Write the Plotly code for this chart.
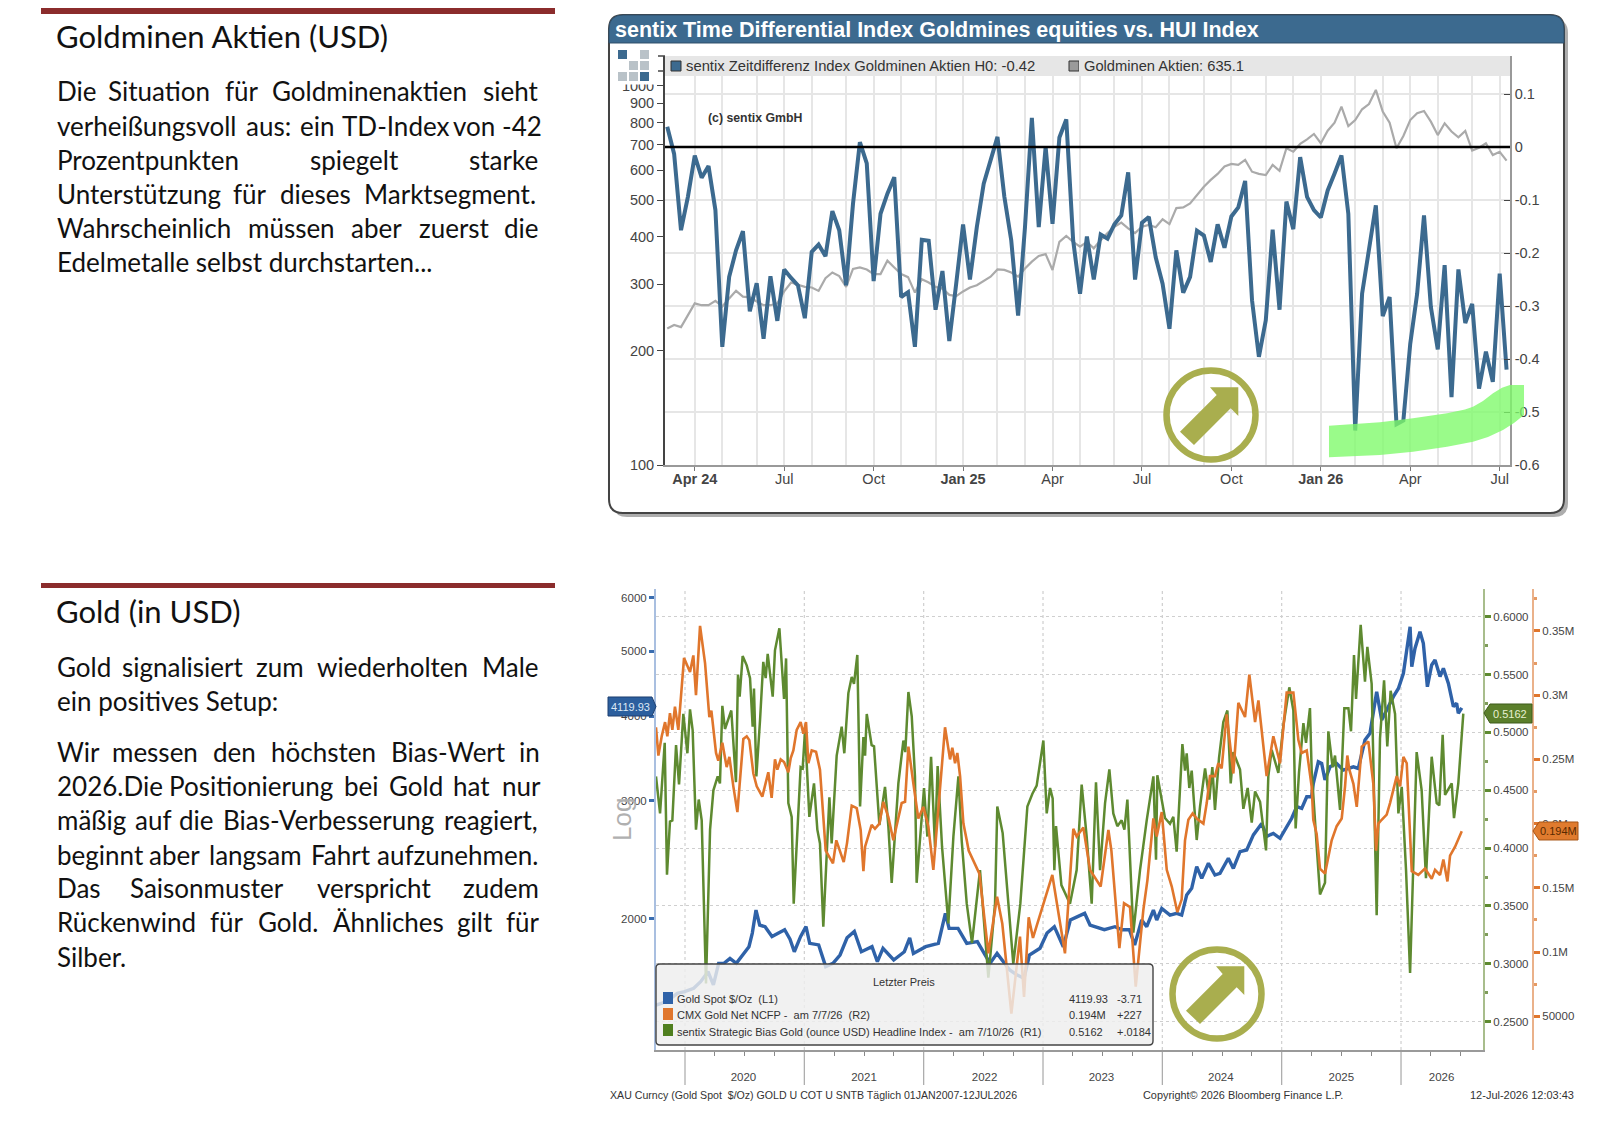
import pandas as pd
import plotly.graph_objects as go

# ---------- top chart data ----------
td_end = "2026-07-10"
td_index = [0.038,-0.013,-0.157,-0.094,-0.016,-0.058,-0.036,-0.119,-0.377,-0.245,-0.195,-0.159,
 -0.310,-0.257,-0.362,-0.244,-0.328,-0.231,-0.247,-0.261,-0.323,-0.198,-0.184,-0.206,-0.121,-0.157,
 -0.261,-0.107,0.009,-0.031,-0.253,-0.126,-0.088,-0.057,-0.283,-0.274,-0.377,-0.175,-0.177,-0.307,
 -0.234,-0.366,-0.258,-0.146,-0.250,-0.151,-0.069,-0.025,0.019,-0.094,-0.176,-0.318,-0.151,0.055,
 -0.151,0.0,-0.145,0.018,0.052,-0.176,-0.277,-0.169,
 -0.250,-0.165,-0.173,-0.146,-0.129,-0.048,-0.250,-0.143,-0.132,-0.208,-0.258,-0.343,-0.195,-0.275,
 -0.245,-0.158,-0.167,-0.217,-0.146,-0.190,-0.131,-0.114,-0.064,-0.289,-0.396,-0.327,-0.156,-0.307,
 -0.103,-0.155,-0.019,-0.094,-0.119,-0.133,-0.082,-0.050,-0.016,-0.126,-0.535,-0.277,-0.195,-0.110,
 -0.319,-0.283,-0.523,-0.516,-0.371,-0.277,-0.129,-0.302,-0.382,-0.223,-0.472,-0.231,-0.332,-0.296,
 -0.456,-0.386,-0.443,-0.239,-0.420]
hui_index = [229,234,231,249,267,264,264,271,262,275,288,278,277,270,264,264,267,287,303,299,295,294,
 288,311,322,315,295,329,332,328,319,319,346,332,319,313,285,309,303,295,292,281,279,287,294,298,306,
 314,328,327,322,314,330,344,356,360,327,388,402,388,377,388,
 373,392,409,425,436,421,409,425,430,424,445,432,476,478,490,516,542,565,586,613,623,619,638,594,586,
 582,619,597,685,671,703,723,747,706,762,800,882,784,813,868,896,976,856,800,685,738,813,847,859,805,
 742,797,758,732,761,675,687,706,657,670,635.1]
left_ticks = [100,200,300,400,500,600,700,800,900,1000]
right_ticks = [0.1,0,-0.1,-0.2,-0.3,-0.4,-0.5,-0.6]
right_labels = ["0.1","0","-0.1","-0.2","-0.3","-0.4","-0.5","-0.6"]
quarter_dates = ["2024-04-05","2024-07-05","2024-10-04","2025-01-03","2025-04-04","2025-07-04",
                 "2025-10-03","2026-01-02","2026-04-03","2026-07-03"]
quarter_labels = ["<b>Apr 24</b>","Jul","Oct","<b>Jan 25</b>","Apr","Jul","Oct","<b>Jan 26</b>","Apr","Jul"]
month_dates = ["2024-05-03","2024-06-07","2024-08-02","2024-09-06","2024-11-01","2024-12-06",
               "2025-02-07","2025-03-07","2025-05-02","2025-06-06","2025-08-01","2025-09-05",
               "2025-11-07","2025-12-05","2026-02-06","2026-03-06","2026-05-01","2026-06-05"]

# ---------- bottom chart data (year fraction, value) ----------
gold_points = [(2019.757,1490),(2019.802,1498),(2019.863,1516),(2019.936,1551),(2019.997,1560),(2020.073,1578),
 (2020.131,1614),(2020.193,1670),(2020.238,1596),(2020.282,1718),(2020.327,1718),(2020.377,1748),(2020.430,1718),
 (2020.492,1778),(2020.536,1819),(2020.564,1906),(2020.595,2062),(2020.626,1959),(2020.671,1948),(2020.729,1884),
 (2020.835,1928),(2020.880,1866),(2020.916,1788),(2020.969,1884),(2021.014,1948),(2021.045,1840),(2021.120,1830),
 (2021.179,1699),(2021.240,1718),(2021.299,1768),(2021.358,1875),(2021.419,1917),(2021.478,1788),(2021.567,1819),
 (2021.612,1728),(2021.659,1809),(2021.749,1738),(2021.838,1788),(2021.883,1875),(2021.914,1778),(2022.017,1819),
 (2022.123,1840),(2022.182,2039),(2022.213,1937),(2022.288,1937),(2022.361,1840),(2022.450,1851),(2022.556,1718),
 (2022.615,1778),(2022.721,1680),(2022.780,1652),(2022.841,1633),(2022.886,1768),(2022.975,1809),(2023.034,1906),
 (2023.095,1948),(2023.170,1819),(2023.229,1993),(2023.349,2039),(2023.394,1959),(2023.514,1928),(2023.603,1948),
 (2023.662,1928),(2023.724,1928),(2023.768,1830),(2023.827,1993),(2023.869,1948),(2023.925,2062),(2023.953,1993),
 (2023.995,2074),(2024.064,2027),(2024.120,2039),(2024.162,2027),(2024.204,2171),(2024.246,2221),(2024.288,2392),
 (2024.330,2298),(2024.386,2420),(2024.441,2325),(2024.483,2339),(2024.553,2462),(2024.595,2378),(2024.651,2518),
 (2024.707,2533),(2024.763,2667),(2024.833,2774),(2024.874,2652),(2024.930,2681),(2024.986,2636),(2025.084,2823),
 (2025.126,2937),(2025.168,2920),(2025.210,3039),(2025.251,3039),(2025.265,3179),(2025.307,3425),(2025.335,3405),
 (2025.363,3218),(2025.405,3367),(2025.461,3405),(2025.517,3329),(2025.601,3367),(2025.642,3348),(2025.698,3690),
 (2025.740,3776),(2025.796,4353),(2025.838,3952),(2025.936,4281),(2025.978,4402),(2026.020,4636),(2026.076,5438),
 (2026.090,4744),(2026.117,5049),(2026.159,5347),(2026.187,5137),(2026.221,4428),(2026.257,4770),(2026.285,4853),
 (2026.327,4585),(2026.355,4717),(2026.397,4480),(2026.439,4137),(2026.466,4185),(2026.480,4043),(2026.509,4119.93)]

ncfp_points = [(2019.757,.275),(2019.777,.253),(2019.805,.268),(2019.833,.279),(2019.852,.268),(2019.874,.286),
 (2019.894,.273),(2019.916,.291),(2019.944,.273),(2019.992,.329),(2020.042,.318),(2020.070,.331),(2020.092,.300),
 (2020.126,.354),(2020.168,.325),(2020.204,.283),(2020.221,.288),(2020.260,.255),(2020.279,.249),(2020.313,.263),
 (2020.349,.244),(2020.372,.252),(2020.405,.229),(2020.439,.209),(2020.489,.266),(2020.517,.268),(2020.539,.265),
 (2020.573,.239),(2020.601,.229),(2020.648,.221),(2020.698,.240),(2020.726,.220),(2020.754,.250),(2020.774,.242),
 (2020.802,.250),(2020.830,.248),(2020.866,.240),(2020.886,.251),(2020.908,.257),(2020.936,.273),(2020.969,.279),
 (2020.992,.270),(2021.014,.279),(2021.034,.247),(2021.062,.257),(2021.098,.256),(2021.131,.242),(2021.159,.200),
 (2021.179,.179),(2021.240,.169),(2021.268,.187),(2021.330,.170),(2021.358,.185),(2021.397,.214),(2021.439,.212),
 (2021.472,.195),(2021.495,.163),(2021.509,.182),(2021.564,.199),(2021.592,.196),(2021.629,.200),(2021.662,.217),
 (2021.704,.205),(2021.746,.187),(2021.816,.216),(2021.844,.217),(2021.872,.260),(2021.914,.231),(2021.955,.204),
 (2021.997,.213),(2022.039,.198),(2022.081,.164),(2022.151,.247),(2022.179,.275),(2022.221,.250),(2022.240,.259),
 (2022.263,.247),(2022.282,.255),(2022.305,.237),(2022.333,.200),(2022.361,.187),(2022.377,.179),(2022.467,.161),
 (2022.542,.099),(2022.615,.143),(2022.659,.122),(2022.735,.052),(2022.807,.112),(2022.841,.065),(2022.880,.127),
 (2022.916,.111),(2023.006,.138),(2023.078,.160),(2023.184,.099),(2023.254,.196),(2023.282,.190),(2023.338,.197),
 (2023.394,.164),(2023.483,.151),(2023.548,.195),(2023.573,.179),(2023.640,.103),(2023.679,.138),(2023.729,.135),
 (2023.777,.073),(2023.841,.133),(2023.875,.156),(2023.925,.204),(2023.953,.190),(2023.995,.209),(2024.037,.164),
 (2024.079,.151),(2024.126,.131),(2024.162,.141),(2024.190,.187),(2024.218,.203),(2024.254,.208),(2024.288,.204),
 (2024.344,.200),(2024.372,.216),(2024.399,.237),(2024.441,.237),(2024.469,.247),(2024.497,.243),(2024.539,.285),
 (2024.595,.239),(2024.637,.294),(2024.693,.283),(2024.729,.316),(2024.777,.279),(2024.805,.296),(2024.874,.237),
 (2024.930,.268),(2024.986,.247),(2025.042,.302),(2025.098,.302),(2025.140,.265),(2025.168,.255),(2025.210,.257),
 (2025.251,.229),(2025.265,.203),(2025.293,.192),(2025.321,.165),(2025.363,.161),(2025.419,.187),(2025.461,.198),
 (2025.503,.204),(2025.531,.229),(2025.550,.253),(2025.567,.242),(2025.601,.231),(2025.629,.213),(2025.651,.242),
 (2025.671,.260),(2025.726,.264),(2025.768,.231),(2025.791,.179),(2025.810,.200),(2025.838,.203),(2025.880,.207),
 (2025.908,.216),(2025.964,.237),(2025.992,.229),(2026.020,.252),(2026.048,.247),(2026.076,.190),(2026.090,.163),
 (2026.145,.160),(2026.201,.165),(2026.257,.157),(2026.285,.164),(2026.327,.160),(2026.355,.172),(2026.389,.155),
 (2026.411,.175),(2026.453,.182),(2026.509,.194)]

bias_points = [(2019.757,.462),(2019.791,.430),(2019.830,.491),(2019.849,.377),(2019.874,.423),(2019.894,.424),
 (2019.925,.489),(2019.950,.455),(2019.986,.516),(2020.020,.482),(2020.042,.520),(2020.064,.502),(2020.092,.416),
 (2020.115,.442),(2020.140,.424),(2020.176,.283),(2020.210,.416),(2020.238,.450),(2020.274,.462),(2020.293,.456),
 (2020.313,.523),(2020.335,.503),(2020.388,.519),(2020.427,.457),(2020.444,.550),(2020.458,.531),(2020.483,.566),
 (2020.517,.558),(2020.545,.547),(2020.567,.505),(2020.578,.538),(2020.598,.462),(2020.629,.511),(2020.656,.561),
 (2020.676,.547),(2020.693,.568),(2020.735,.531),(2020.754,.571),(2020.791,.590),(2020.830,.529),(2020.847,.564),
 (2020.866,.439),(2020.894,.427),(2020.911,.352),(2020.969,.470),(2020.986,.469),(2021.006,.502),(2021.042,.427),
 (2021.081,.456),(2021.109,.416),(2021.131,.404),(2021.159,.332),(2021.210,.444),(2021.229,.404),(2021.271,.480),
 (2021.313,.505),(2021.335,.482),(2021.369,.534),(2021.397,.548),(2021.416,.542),(2021.444,.567),(2021.467,.436),
 (2021.495,.496),(2021.509,.480),(2021.523,.516),(2021.564,.489),(2021.584,.488),(2021.629,.420),(2021.676,.453),
 (2021.704,.419),(2021.732,.370),(2021.788,.456),(2021.830,.493),(2021.846,.483),(2021.872,.535),(2021.900,.514),
 (2021.927,.462),(2021.941,.370),(2022.003,.452),(2022.031,.410),(2022.062,.479),(2022.095,.401),(2022.117,.471),
 (2022.154,.401),(2022.207,.335),(2022.249,.410),(2022.291,.462),(2022.319,.406),(2022.361,.352),(2022.405,.318),
 (2022.472,.381),(2022.542,.288),(2022.598,.352),(2022.617,.436),(2022.662,.413),(2022.710,.352),(2022.751,.300),
 (2022.810,.352),(2022.869,.436),(2022.911,.447),(2022.947,.454),(2023.003,.493),(2023.031,.430),(2023.059,.452),
 (2023.081,.443),(2023.095,.381),(2023.109,.419),(2023.154,.368),(2023.226,.352),(2023.282,.381),(2023.324,.455),
 (2023.366,.410),(2023.408,.352),(2023.444,.457),(2023.478,.381),(2023.520,.439),(2023.556,.468),(2023.589,.430),
 (2023.623,.419),(2023.659,.424),(2023.682,.416),(2023.707,.442),(2023.757,.327),(2023.813,.381),(2023.869,.424),
 (2023.925,.462),(2023.947,.390),(2023.958,.463),(2024.022,.426),(2024.064,.421),(2024.092,.427),(2024.120,.397),
 (2024.168,.490),(2024.190,.467),(2024.204,.482),(2024.226,.452),(2024.246,.467),(2024.288,.407),(2024.316,.436),
 (2024.358,.469),(2024.394,.442),(2024.419,.470),(2024.441,.433),(2024.475,.478),(2024.511,.509),(2024.545,.519),
 (2024.573,.456),(2024.595,.483),(2024.651,.468),(2024.679,.434),(2024.715,.452),(2024.749,.422),(2024.777,.449),
 (2024.819,.440),(2024.869,.398),(2024.888,.462),(2024.916,.485),(2024.972,.465),(2025.014,.506),(2025.064,.539),
 (2025.098,.519),(2025.117,.417),(2025.145,.465),(2025.182,.508),(2025.204,.491),(2025.237,.521),(2025.251,.468),
 (2025.288,.410),(2025.321,.360),(2025.363,.370),(2025.391,.501),(2025.427,.470),(2025.447,.480),(2025.489,.433),
 (2025.525,.521),(2025.559,.521),(2025.581,.501),(2025.606,.567),(2025.623,.529),(2025.662,.593),(2025.698,.544),
 (2025.718,.574),(2025.754,.542),(2025.796,.342),(2025.824,.495),(2025.858,.545),(2025.885,.488),(2025.913,.536),
 (2025.950,.516),(2025.978,.430),(2026.006,.453),(2026.042,.381),(2026.076,.292),(2026.131,.483),(2026.173,.450),
 (2026.209,.374),(2026.257,.479),(2026.299,.439),(2026.321,.437),(2026.349,.498),(2026.369,.446),(2026.425,.456),
 (2026.444,.426),(2026.480,.456),(2026.522,.5162)]

gold_ticks = [2000,3000,4000,5000,6000]
bias_ticks = [0.25,0.30,0.35,0.40,0.45,0.50,0.55,0.60]
bias_minor = [0.275,0.325,0.375,0.425,0.475,0.525,0.575]
ncfp_ticks = [0.05,0.10,0.15,0.20,0.25,0.30,0.35]
ncfp_labels = ["50000","0.1M","0.15M","0.2M","0.25M","0.3M","0.35M"]
ncfp_minor = [0.075,0.125,0.175,0.225,0.275,0.325,0.375]
year_starts = [2020,2021,2022,2023,2024,2025,2026]
year_label_pos = [2020.49,2021.50,2022.51,2023.49,2024.49,2025.50,2026.34]
quarter_ticks = [y + q for y in [2019,2020,2021,2022,2023,2024,2025,2026] for q in (0.25,0.5,0.75)
                 if 2019.76 < y + q < 2026.68]

gold_year, gold_value = zip(*gold_points)
ncfp_year, ncfp_value = zip(*ncfp_points)
bias_year, bias_value = zip(*bias_points)
td_dates = pd.date_range(end=td_end, periods=len(td_index), freq="7D")

W, H = 1599, 1122
px = lambda x: x / W
py = lambda y: 1 - y / H
shapes, notes = [], []

def rect(x0, y0, x1, y1, fill, line=None, lw=0, layer="below"):
    shapes.append(dict(type="rect", xref="paper", yref="paper", x0=px(x0), x1=px(x1), y0=py(y0), y1=py(y1),
                       fillcolor=fill, line=dict(color=line or fill, width=lw), layer=layer))

def poly(points, fill, line=None, lw=0, layer="above"):
    d = "M" + " L".join(f"{px(a):.5f},{py(b):.5f}" for a, b in points) + " Z"
    shapes.append(dict(type="path", xref="paper", yref="paper", path=d, fillcolor=fill,
                       line=dict(color=line or fill, width=lw), layer=layer))

def rounded(x0, y0, x1, y1, r, fill, line, lw, layer, top_only=False):
    R = lambda a, b: f"{px(a):.5f},{py(b):.5f}"
    d = f"M{R(x0, y0 + r)} Q{R(x0, y0)} {R(x0 + r, y0)} L{R(x1 - r, y0)} Q{R(x1, y0)} {R(x1, y0 + r)} "
    if top_only:
        d += f"L{R(x1, y1)} L{R(x0, y1)} Z"
    else:
        d += (f"L{R(x1, y1 - r)} Q{R(x1, y1)} {R(x1 - r, y1)} L{R(x0 + r, y1)} "
              f"Q{R(x0, y1)} {R(x0, y1 - r)} Z")
    shapes.append(dict(type="path", xref="paper", yref="paper", path=d, fillcolor=fill,
                       line=dict(color=line, width=lw), layer=layer))

def text(x, y, s, size, color="#111", font="Lato", anchor="left", angle=0):
    notes.append(dict(xref="paper", yref="paper", x=px(x), y=py(y), text=s, showarrow=False, xanchor=anchor,
                      yanchor="middle", textangle=angle, font=dict(size=size, color=color, family=font),
                      borderpad=0, borderwidth=0))

def badge_arrow(cx, cy):
    olive = "#a9ae4e"
    shapes.append(dict(type="circle", xref="paper", yref="paper", x0=px(cx - 44.5), x1=px(cx + 44.5),
                       y0=py(cy + 44.5), y1=py(cy - 44.5), line=dict(color=olive, width=6.5),
                       fillcolor="rgba(0,0,0,0)", layer="above"))
    offs = [(27.3, -27.7), (-1, -27.7), (5.7, -20), (-31, 16.7), (-17, 30), (19.7, -6.7), (27.3, 1)]
    poly([(cx + a, cy + b) for a, b in offs], olive)

# ---------- left column ----------
rect(41, 8, 555, 14, "#8b2c2c")
rect(41, 583, 555, 588, "#8b2c2c")
HEAD, BODY = 31, 26
text(56, 36, "Goldminen Aktien (USD)", HEAD)
text(56, 611, "Gold (in USD)", HEAD)
lines = [
 (91, [("Die",57),("Situation",107.6),("für",224.8),("Goldminenaktien",272.4),("sieht",483.4)]),
 (125.7, [("verheißungsvoll",57),("aus:",245.5),("ein",299.7),("TD-Index",342),("von",453.4),("-42",502.4)]),
 (160, [("Prozentpunkten",57),("spiegelt",310),("starke",468.6)]),
 (194.3, [("Unterstützung",57),("für",233.4),("dieses",280),("Marktsegment.",363.8)]),
 (228.3, [("Wahrscheinlich",57),("müssen",248),("aber",351.4),("zuerst",419),("die",504)]),
 (262.3, [("Edelmetalle selbst durchstarten...",57)]),
 (666.7, [("Gold",57),("signalisiert",122.4),("zum",255.9),("wiederholten",316.9),("Male",481.7)]),
 (700.7, [("ein positives Setup:",57)]),
 (751.7, [("Wir",57),("messen",112),("den",212.8),("höchsten",270.7),("Bias-Wert",391.4),("in",519)]),
 (785.7, [("2026.Die",57),("Positionierung",169),("bei",343.8),("Gold",389.3),("hat",453.4),("nur",501.7)]),
 (820, [("mäßig",57),("auf",134.5),("die",179),("Bias-Verbesserung",223),("reagiert,",443.8)]),
 (855, [("beginnt",57),("aber",149),("langsam",208.6),("Fahrt",311),("aufzunehmen.",376.6)]),
 (888.3, [("Das",57),("Saisonmuster",130),("verspricht",316.9),("zudem",462.8)]),
 (922.3, [("Rückenwind",57),("für",210),("Gold.",257.6),("Ähnliches",332.8),("gilt",456.9),("für",505.9)]),
 (956.7, [("Silber.",57)]),
]
for y, words in lines:
    for w, x in words:
        text(x, y, w, BODY)

# ---------- top panel chrome ----------
rounded(613, 19, 1568, 517, 14, "rgba(0,0,0,0.32)", "rgba(0,0,0,0)", 0, "below")
rounded(609, 15, 1564, 513, 14, "#ffffff", "#444444", 2, "below")
rounded(609, 15, 1564, 43, 14, "#3c6a8f", "#2f4f6a", 1, "below", top_only=True)
rect(665, 56, 1510, 76, "#e6e6e6", layer="below")
text(615, 30, "<b>sentix Time Differential Index Goldmines equities vs. HUI Index</b>", 21.5, "#ffffff", "Liberation Sans")
rect(671, 61, 681, 71, "#3c6a8f", "#333333", 1)
text(686, 66, "sentix Zeitdifferenz Index Goldminen Aktien H0: -0.42", 14.8, "#333", "Liberation Sans")
rect(1069, 61, 1079, 71, "#9a9a9a", "#333333", 1)
text(1084, 66, "Goldminen Aktien: 635.1", 14.7, "#333", "Liberation Sans")
text(708, 118, "<b>(c) sentix GmbH</b>", 12.3, "#333", "Liberation Sans")
rect(622, 72, 662, 84.5, "#ffffff", layer="above")
shapes += [dict(type="line", xref="paper", yref="paper", x0=px(658), x1=px(665), y0=py(yy), y1=py(yy),
                line=dict(color="#444", width=1.5), layer="above") for yy in (56, 71)]
logo = [(618, 50, "#3c6a8f"), (640, 50, "#b9c2c8"), (629, 61, "#b9c2c8"), (640, 61, "#b9c2c8"),
        (618, 72, "#b9c2c8"), (629, 72, "#b9c2c8"), (640, 72, "#3c6a8f")]
for lx, ly, c in logo:
    rect(lx, ly, lx + 9, ly + 9, c, layer="above")
shapes.append(dict(type="line", xref="x domain", yref="y2", x0=0, x1=1, y0=0, y1=0,
                   line=dict(color="#000000", width=2.5), layer="above"))
band = [(1329,425.7),(1380,422.3),(1413,418.3),(1447,413.3),(1465,409.5),(1473,406.7),(1483,401),(1493,393.3),(1502,387.7),
        (1510,385),(1524,385),(1524,415),(1514,423),(1503,430),(1488,437),(1473,441.7),(1447,446.7),(1413,451.7),(1380,455),(1329,457.3)]
poly(band, "rgba(125,250,105,0.78)")
badge_arrow(1211, 415)

# ---------- bottom chart chrome ----------
for yr in year_starts:
    shapes.append(dict(type="line", xref="x2", yref="paper", x0=yr, x1=yr, y0=py(1050), y1=py(589),
                       line=dict(color="#cfcfcf", width=1.2, dash="dot"), layer="below"))
    shapes.append(dict(type="line", xref="x2", yref="paper", x0=yr, x1=yr, y0=py(1085), y1=py(1050),
                       line=dict(color="#a8a8a8", width=1.2), layer="below"))
rounded(656, 964, 1153, 1045, 4, "rgba(238,238,238,0.82)", "#444444", 1.4, "above")
NARROW = "Liberation Sans"
SMALL = 11
text(904, 982, "Letzter Preis", SMALL, "#333", NARROW, anchor="center")
for yy, c in ((998, "#2f62a8"), (1014, "#e0762c"), (1030, "#4f7f1f")):
    rect(663, yy - 6, 673, yy + 6, c, layer="above")
text(677, 999, "Gold Spot $/Oz  (L1)", SMALL, "#333", NARROW)
text(677, 1015, "CMX Gold Net NCFP -  am 7/7/26  (R2)", SMALL, "#333", NARROW)
text(677, 1032, "sentix Strategic Bias Gold (ounce USD) Headline Index -  am 7/10/26  (R1)", SMALL, "#333", NARROW)
for yy, a, b in ((999, "4119.93", "-3.71"), (1015, "0.194M", "+227"), (1032, "0.5162", "+.0184")):
    text(1068.5, yy, a, SMALL, "#333", NARROW)
    text(1117, yy, b, SMALL, "#333", NARROW)
text(622, 820, "Log", 26, "#b0b0b0", "Liberation Sans", anchor="center", angle=-90)
poly([(608, 697), (652, 697), (656, 706.5), (652, 716), (608, 716)], "#2c5f9e", "#1d3f70", 1)
text(630, 707, "4119.93", SMALL, "#dce8f5", NARROW, anchor="center")
poly([(1484, 713), (1490, 704), (1532, 704), (1532, 723), (1490, 723)], "#5b7f2b", "#3f5c1c", 1)
text(1510, 714, "0.5162", SMALL, "#e8f0d0", NARROW, anchor="center")
poly([(1533, 831), (1539, 822), (1578, 822), (1578, 840), (1539, 840)], "#e07b2e", "#a65416", 1)
text(1558, 831, "0.194M", SMALL, "#5a2a00", NARROW, anchor="center")
text(610, 1095, "XAU Curncy (Gold Spot  $/Oz) GOLD U COT U SNTB Täglich 01JAN2007-12JUL2026", 10.6, "#333", NARROW)
text(1143, 1095, "Copyright© 2026 Bloomberg Finance L.P.", 10.9, "#333", NARROW)
text(1470, 1095, "12-Jul-2026 12:03:43", 11, "#333", NARROW)
badge_arrow(1217, 994)

# ---------- traces ----------
fig = go.Figure()
fig.add_trace(go.Scatter(x=td_dates, y=hui_index, yaxis="y", xaxis="x", mode="lines", line=dict(color="#aaaaaa", width=2.2)))
fig.add_trace(go.Scatter(x=td_dates, y=td_index, yaxis="y2", xaxis="x", mode="lines", line=dict(color="#3c6a8f", width=4)))
fig.add_trace(go.Scatter(x=bias_year, y=bias_value, xaxis="x2", yaxis="y4", mode="lines", line=dict(color="#5e8a30", width=2.5)))
fig.add_trace(go.Scatter(x=ncfp_year, y=ncfp_value, xaxis="x2", yaxis="y5", mode="lines", line=dict(color="#e0762c", width=2.6)))
fig.add_trace(go.Scatter(x=gold_year, y=gold_value, xaxis="x2", yaxis="y3", mode="lines", line=dict(color="#2f62a8", width=3.4)))

GRID = "#e6e6e6"
TF = dict(family="Liberation Sans", size=14.5, color="#444")
BF = dict(family=NARROW, size=11.5, color="#444")
fig.update_layout(
    template="none", width=W, height=H, margin=dict(l=0, r=0, t=0, b=0, pad=0), paper_bgcolor="white",
    plot_bgcolor="rgba(0,0,0,0)", showlegend=False, hovermode=False, shapes=shapes, annotations=notes,
    xaxis=dict(automargin=False, domain=[px(665), px(1510)], anchor="y", type="date", range=["2024-03-05 17:00", "2026-07-13 12:00"],
               tickmode="array", tickvals=quarter_dates, ticktext=quarter_labels, tickfont=TF, ticks="outside", ticklen=4,
               ticklabelstandoff=-4, tickcolor="#777", showgrid=True, gridcolor=GRID, gridwidth=1.5, showline=True, linecolor="#999", linewidth=1.5,
               minor=dict(tickvals=month_dates, showgrid=True, gridcolor=GRID, gridwidth=1.5, ticks="")),
    yaxis=dict(automargin=False, domain=[py(465), py(56)], anchor="x", type="log", range=[2, 3.079], tickmode="array", tickvals=left_ticks,
               ticktext=[str(t) for t in left_ticks], tickfont=TF, ticks="outside", ticklen=6, tickcolor="#444",
               showgrid=False, zeroline=False, showline=True, linecolor="#444", linewidth=1.8),
    yaxis2=dict(automargin=False, domain=[py(465), py(56)], anchor="x", overlaying="y", side="right", range=[-0.6, 0.1717], tickmode="array",
                tickvals=right_ticks, ticktext=right_labels, tickfont=TF, ticks="inside", ticklen=6, tickcolor="#444",
                showgrid=True, gridcolor=GRID, gridwidth=1.5, zeroline=False, showline=True, linecolor="#999", linewidth=1.5),
    xaxis2=dict(automargin=False, domain=[px(656), px(1483)], anchor="y3", range=[2019.757, 2026.687], tickmode="array",
                tickvals=year_label_pos, ticktext=[str(y) for y in year_starts], tickfont=BF, ticks="", ticklabelstandoff=15,
                showgrid=False, zeroline=False, showline=True, linecolor="#9a9a9a", linewidth=1.5,
                minor=dict(tickvals=quarter_ticks, ticks="outside", ticklen=4, tickcolor="#888", showgrid=False)),
    yaxis3=dict(automargin=False, domain=[py(1050), py(589)], anchor="x2", type="log", range=[3.1063, 3.7915], tickmode="array",
                tickvals=gold_ticks, ticktext=[str(t) for t in gold_ticks], tickfont=BF, ticks="outside", ticklen=5, tickwidth=2.5,
                tickcolor="#3a6db0", showgrid=False, zeroline=False, showline=True, linecolor="#a9bfe0", linewidth=2),
    yaxis4=dict(automargin=False, domain=[py(1050), py(589)], anchor="x2", overlaying="y3", side="right", range=[0.2255, 0.624], tickmode="array",
                tickvals=bias_ticks, ticktext=[f"{t:.4f}" for t in bias_ticks], tickfont=BF, ticks="outside", ticklen=6, tickwidth=2.5,
                tickcolor="#5e8a30", showgrid=True, griddash="dot", gridcolor="#cfcfcf", gridwidth=1.2, zeroline=False,
                showline=True, linecolor="#a8bd8c", linewidth=2,
                minor=dict(tickvals=bias_minor, ticks="outside", ticklen=3, tickcolor="#7f9c5a", showgrid=False)),
    yaxis5=dict(automargin=False, domain=[py(1050), py(589)], anchor="free", position=px(1533), overlaying="y3", side="right", range=[0.0237, 0.3827],
                tickmode="array", tickvals=ncfp_ticks, ticktext=ncfp_labels, tickfont=BF, ticks="outside", ticklen=6, tickwidth=2.5,
                tickcolor="#e0762c", showgrid=False, zeroline=False, showline=True, linecolor="#eab18a", linewidth=2,
                minor=dict(tickvals=ncfp_minor, ticks="outside", ticklen=3, tickcolor="#e59a64", showgrid=False)),
)
fig.write_html("out.html", config=dict(displayModeBar=False), post_script="document.body.style.margin='0';")
